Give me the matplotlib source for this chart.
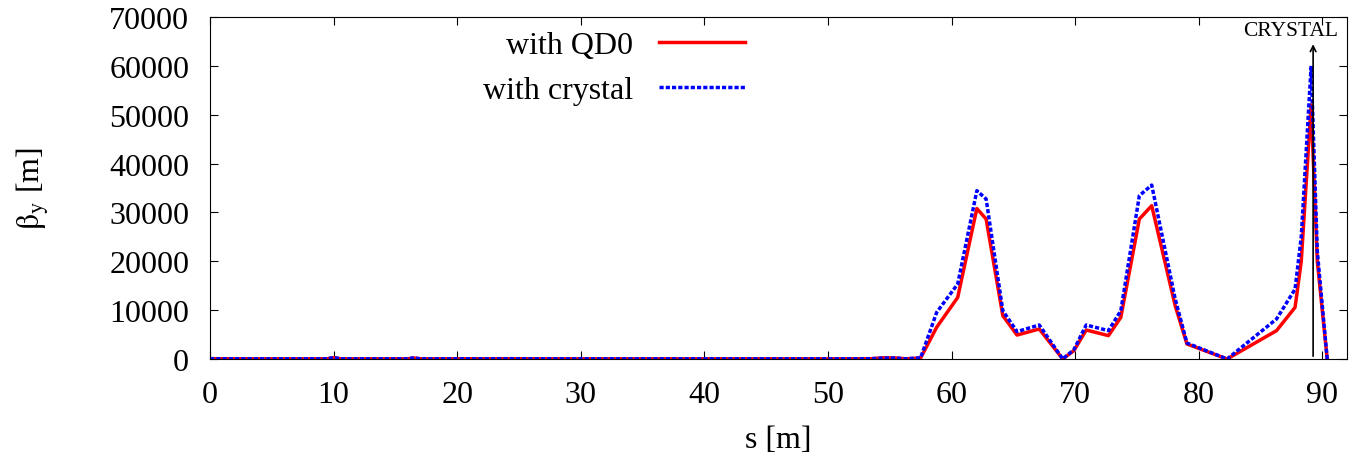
import matplotlib
matplotlib.use('Agg')
import matplotlib.pyplot as plt

# Данные
s = [0, 5, 9.5, 10, 10.6, 16, 16.5, 17, 24, 30, 40, 50, 53.5, 54.5, 55.5, 56.3,
     57.5, 58.8, 60.5, 62.05, 62.8, 64.15, 65.3, 67.1, 69.0, 69.9, 70.9, 72.7,
     73.7, 75.2, 76.2, 78.1, 79.05, 82.3, 86.3, 87.8, 88.3, 89.1, 89.6, 90.4]
beta_qd0 = [60, 40, 50, 250, 40, 40, 200, 40, 60, 40, 40, 40, 60, 250, 200, 40,
            200, 6500, 12600, 30800, 28650, 8870, 4900, 6140, 0, 1700, 5930, 4780,
            8530, 28650, 31380, 10900, 3070, 0, 5800, 10570, 20000, 52000, 20000, 0]
beta_crystal = [60, 40, 50, 300, 40, 40, 250, 40, 60, 40, 40, 40, 60, 200, 200, 40,
                250, 9550, 15350, 34450, 32750, 9890, 5600, 6960, 0, 1900, 6960, 5800,
                9890, 33430, 35600, 12280, 3270, 0, 8190, 14300, 25000, 60000, 22000, 0]

crystal_s = 89.26

plt.rcParams['font.family'] = ['Liberation Serif', 'DejaVu Serif']
plt.rcParams['mathtext.fontset'] = 'stix'

fig = plt.figure(figsize=(13.49, 4.6), dpi=100)
ax = fig.add_axes([0.1557, 0.2174, 0.9985 - 0.1557, 0.9609 - 0.2174])

ax.plot(s, beta_qd0, color='#ff0000', lw=2.5, label='with QD0')
ax.plot(s, beta_crystal, color='#0000ff', lw=2.5, linestyle=(0, (1.2, 0.6)), label='with crystal')

# стрелка кристалла
ax.annotate('', xy=(crystal_s, 65000), xytext=(crystal_s, 0),
            arrowprops=dict(arrowstyle='->', color='black', lw=1.2))
ax.text(87.4, 65300, 'CRYSTAL', ha='center', va='bottom', fontsize=15.5)

ax.set_xlim(0, 92)
ax.set_ylim(0, 70000)
ax.set_xticks(range(0, 91, 10))
ax.set_yticks(range(0, 70001, 10000))
ax.tick_params(direction='in', top=True, right=True, labelsize=23, length=6)
ax.tick_params(axis='y', pad=15)
ax.tick_params(axis='x', pad=15)
ax.set_xlabel('s [m]', fontsize=23, labelpad=12)
ax.set_ylabel(r'$\mathrm{\beta_y}$ [m]', fontsize=23, labelpad=42)

leg = ax.legend(loc='upper right', bbox_to_anchor=(0.496, 1.045), frameon=False, fontsize=23,
                markerfirst=False, handlelength=2.7, labelspacing=0.5)
for t in leg.get_texts():
    t.set_ha('right')

fig.savefig('out.png', dpi=100)
